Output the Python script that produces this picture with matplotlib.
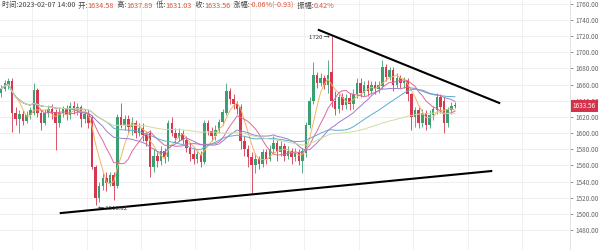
import numpy as np
import pandas as pd
import matplotlib
matplotlib.use("Agg")
import matplotlib.pyplot as plt

plt.rcParams['font.family'] = ['Noto Sans CJK SC', 'DejaVu Sans']

# ---- data ----
opens = [1650,1655,1660,1664,1625,1618,1624,1615,1622,1625,
         1653,1625,1612,1625,1630,1626,1612,1625,1630,1622,
         1634,1628,1632,1618,1624,1620,1558,1520,1535,1545,
         1538,1548,1535,1620,1610,1618,1608,1612,1600,1606,
         1598,1600,1558,1572,1565,1578,1570,1612,1600,1594,
         1600,1592,1582,1574,1568,1574,1564,1612,1602,1596,
         1604,1614,1625,1652,1642,1636,1632,1590,1580,1570,
         1560,1568,1562,1576,1568,1580,1588,1576,1584,1572,
         1578,1570,1576,1566,1575,1610,1640,1672,1662,1668,
         1660,1676,1640,1630,1645,1635,1644,1636,1648,1662,
         1650,1660,1652,1660,1654,1658,1682,1670,1678,1660,
         1668,1662,1665,1648,1620,1628,1612,1625,1610,1622,
         1628,1645,1640,1612,1628,1634.58]
highs = [1660,1666,1668,1668,1632,1628,1628,1627,1632,1662,
         1656,1628,1630,1635,1636,1630,1632,1634,1635,1638,
         1640,1637,1635,1630,1628,1622,1560,1540,1550,1552,
         1552,1552,1624,1637,1622,1622,1620,1616,1612,1612,
         1602,1604,1580,1578,1584,1582,1616,1620,1606,1606,
         1604,1596,1588,1580,1578,1578,1616,1616,1608,1610,
         1618,1630,1662,1656,1648,1640,1636,1596,1585,1576,
         1575,1572,1580,1580,1585,1596,1592,1590,1588,1584,
         1582,1582,1580,1582,1614,1645,1688,1675,1674,1672,
         1690,1720,1652,1650,1650,1648,1650,1655,1668,1668,
         1664,1666,1664,1664,1664,1690,1686,1682,1682,1674,
         1672,1670,1668,1650,1632,1632,1630,1628,1628,1634,
         1650,1648,1645,1632,1638,1637.89]
lows = [1645,1652,1655,1601,1610,1600,1610,1612,1618,1622,
        1620,1604,1610,1620,1618,1579,1608,1620,1616,1618,
        1624,1622,1608,1612,1606,1555,1510.82,1515,1530,1528,
        1534,1517,1532,1606,1604,1600,1598,1594,1596,1590,
        1584,1546,1552,1558,1560,1563,1566,1596,1588,1590,
        1586,1576,1566,1562,1563,1558,1562,1598,1590,1592,
        1600,1610,1622,1636,1630,1624,1580,1572,1558,1526,
        1550,1556,1558,1562,1565,1575,1565,1572,1566,1568,
        1562,1566,1560,1550,1570,1606,1636,1656,1658,1654,
        1650,1632,1622,1625,1628,1630,1628,1630,1644,1645,
        1646,1646,1648,1648,1650,1655,1664,1666,1652,1656,
        1656,1656,1640,1604,1608,1606,1608,1604,1606,1616,
        1624,1625,1600,1608,1624,1631.03]
closes = [1655,1662,1664,1625,1618,1624,1615,1622,1628,1653,
          1625,1612,1625,1630,1624,1612,1625,1630,1622,1634,
          1628,1632,1618,1624,1612,1558,1520,1535,1545,1538,
          1548,1535,1620,1610,1618,1608,1612,1600,1606,1598,
          1590,1558,1572,1565,1578,1570,1612,1600,1594,1600,
          1592,1582,1574,1568,1574,1564,1612,1602,1596,1604,
          1614,1626,1652,1642,1636,1630,1590,1580,1570,1560,
          1568,1562,1576,1568,1580,1588,1576,1584,1572,1578,
          1570,1576,1566,1578,1610,1640,1672,1662,1668,1660,
          1672,1640,1630,1645,1635,1644,1636,1648,1662,1650,
          1660,1652,1660,1654,1660,1682,1670,1678,1660,1668,
          1662,1665,1648,1620,1628,1612,1625,1610,1622,1630,
          1645,1632,1612,1628,1634,1633.56]

ma_windows = [5, 10, 20, 30, 60]
ma_colors = ['#f2b55c', '#e0679f', '#a07cc8', '#5aaed0', '#cfdca0']

upper_trend_x = [87.5, 137.2]
upper_trend_y = [1727.6, 1637.3]
lower_trend_x = [16.4, 135.0]
lower_trend_y = [1501.0, 1553.0]

y_ticks = list(range(1480, 1761, 20))
last_price = 1633.56
high_mark = (91, 1720)
low_mark = (26, 1510.82)

header = [("时间:2023-02-07 14:00", '#444444'), ("  开:", '#444444'), ("1634.58", '#e0533a'),
          ("  高:", '#444444'), ("1637.89", '#e0533a'), ("  低:", '#444444'), ("1631.03", '#e0533a'),
          ("  收:", '#444444'), ("1633.56", '#e0533a'), ("  涨幅:", '#444444'),
          ("-0.06%(-0.93)", '#e0533a'), ("  振幅:", '#444444'), ("0.42%", '#e0533a')]

# ---- figure ----
fig = plt.figure(figsize=(6, 2.5), dpi=100)
ax = fig.add_axes([0, 0, 570/600, 1])
ax.set_facecolor('white')

o = np.array(opens); h = np.array(highs); l = np.array(lows); c = np.array(closes)
x = np.arange(len(c))
up = c >= o
up_col = '#3a9f72'
dn_col = '#d5384f'
cols = np.where(up, up_col, dn_col)

ax.set_xlim(-0.33, 156.7)
ax.set_ylim(1455.3, 1764.7)

ax.set_yticks(y_ticks)
ax.set_xticks(np.arange(8.5, 157, 15))
ax.grid(True, color='#eeeeee', linewidth=0.6)
ax.set_axisbelow(True)

ax.vlines(x, l, h, colors=cols, linewidth=0.6, zorder=2)
body_bottom = np.minimum(o, c)
body_h = np.maximum(np.abs(c - o), 0.8)
ax.bar(x, body_h, bottom=body_bottom, width=0.7, color=cols, linewidth=0, zorder=3)

s = pd.Series(c)
for w, col in zip(ma_windows, ma_colors):
    ax.plot(x, s.rolling(w, min_periods=1).mean(), color=col, linewidth=0.7, zorder=4)

ax.plot(upper_trend_x, upper_trend_y, color='black', linewidth=1.5, zorder=5)
ax.plot(lower_trend_x, lower_trend_y, color='black', linewidth=1.5, zorder=5)

ax.yaxis.tick_right()
ax.tick_params(axis='y', labelsize=4.6, colors='#666666', length=2, width=0.5, pad=2)
ax.tick_params(axis='x', labelbottom=False, length=0)
ax.yaxis.set_major_formatter(matplotlib.ticker.FormatStrFormatter('%.2f'))
for sp in ['left', 'top']:
    ax.spines[sp].set_visible(False)
ax.spines['right'].set_color('#dddddd')
ax.spines['bottom'].set_color('#dddddd')
ax.spines['right'].set_linewidth(0.6)
ax.spines['bottom'].set_linewidth(0.6)

# last price tag
ax.annotate(f"{last_price:.2f}", xy=(1.0, last_price), xycoords=('axes fraction', 'data'),
            xytext=(2, 0), textcoords='offset points', ha='left', va='center',
            fontsize=4.6, color='white', annotation_clip=False,
            bbox=dict(boxstyle='square,pad=0.35', fc='#d4334b', ec='none'))

ax.text(high_mark[0] - 0.6, high_mark[1] - 2, f"{high_mark[1]} →", fontsize=4.3, color='#333333',
        ha='right', va='center', zorder=6)
ax.text(low_mark[0] + 0.6, low_mark[1] - 4, f"← {low_mark[1]:.2f}", fontsize=4.3, color='#333333',
        ha='left', va='center', zorder=6)

# header
hdr_size = 5.2
prev = fig.text(0.003, 0.978, header[0][0], fontsize=hdr_size, color=header[0][1],
                ha='left', va='center')
for txt, col in header[1:]:
    prev = ax.annotate(txt, xy=(1, 0.5), xycoords=prev, ha='left', va='center',
                       fontsize=hdr_size, color=col, annotation_clip=False)

fig.savefig('out.png', dpi=100, facecolor='white')
